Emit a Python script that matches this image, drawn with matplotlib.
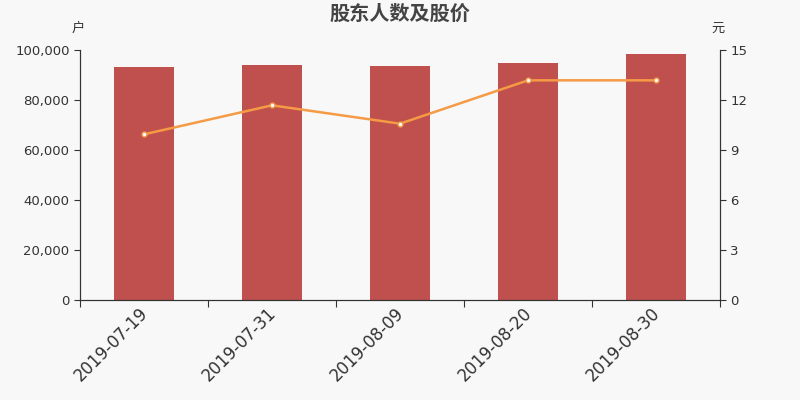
import numpy as np
import matplotlib
matplotlib.use('Agg')
import matplotlib.pyplot as plt
import matplotlib.transforms as mtransforms
from matplotlib.ticker import FuncFormatter, FixedLocator

plt.rcParams['font.family'] = ['DejaVu Sans', 'Noto Sans CJK SC']

dates = ['2019-07-19', '2019-07-31', '2019-08-09', '2019-08-20', '2019-08-30']
holders = [93100, 94000, 93450, 94950, 98300]
price = [9.94, 11.68, 10.58, 13.18, 13.18]

bar_color = '#c0504d'
line_color = '#f59a45'
txt = '#333333'
bg = '#f8f8f8'

fig = plt.figure(figsize=(8, 4), dpi=100, facecolor=bg)
ax = fig.add_axes([0.1, 0.25, 0.8, 0.625], facecolor=bg)
x = np.arange(len(dates))
ax.bar(x, holders, width=0.47, color=bar_color, zorder=2)
ax.set_xlim(-0.5, len(dates) - 0.5)
ax.set_ylim(0, 100000)
ax.set_yticks([0, 20000, 40000, 60000, 80000, 100000])
ax.yaxis.set_major_formatter(FuncFormatter(lambda v, p: f'{int(v):,}'))

# ticks between categories, labels under bars
ax.xaxis.set_major_locator(FixedLocator(np.arange(-0.5, len(dates), 1.0)))
ax.set_xticklabels([])
ax.xaxis.set_minor_locator(FixedLocator(x))
ax.set_xticklabels(dates, minor=True, rotation=45, ha='right', rotation_mode='anchor',
                   fontsize=12, color=txt)
ax.tick_params(axis='x', which='minor', length=0, pad=3)
ax.tick_params(axis='x', which='major', length=5, color=txt)
ax.tick_params(axis='y', labelsize=9.5, colors=txt, length=4)
shift = mtransforms.ScaledTranslation(-5 / 100, 0, fig.dpi_scale_trans)
for lab in ax.get_xticklabels(minor=True):
    lab.set_transform(lab.get_transform() + shift)

ax2 = ax.twinx()
ax2.plot(x, price, color=line_color, lw=1.8, marker='o', ms=3.5,
         mfc='white', mec=line_color, mew=1, zorder=3)
ax2.set_ylim(0, 15)
ax2.set_yticks([0, 3, 6, 9, 12, 15])
ax2.tick_params(axis='y', labelsize=9.5, colors=txt, length=4)

for a in (ax, ax2):
    a.spines['top'].set_visible(False)
    for s in ('left', 'right', 'bottom'):
        a.spines[s].set_color(txt)

cjk = ['Noto Sans CJK SC', 'DejaVu Sans']
fig.text(0.5, 0.967, '股东人数及股价', ha='center', va='center', fontsize=14.5,
         fontweight='bold', color='#444444', family=cjk)
fig.text(0.098, 0.93, '户', ha='center', va='center', fontsize=9.5, color=txt, family=cjk)
fig.text(0.898, 0.93, '元', ha='center', va='center', fontsize=9.5, color=txt, family=cjk)

fig.savefig('out.png', dpi=100, facecolor=bg)
